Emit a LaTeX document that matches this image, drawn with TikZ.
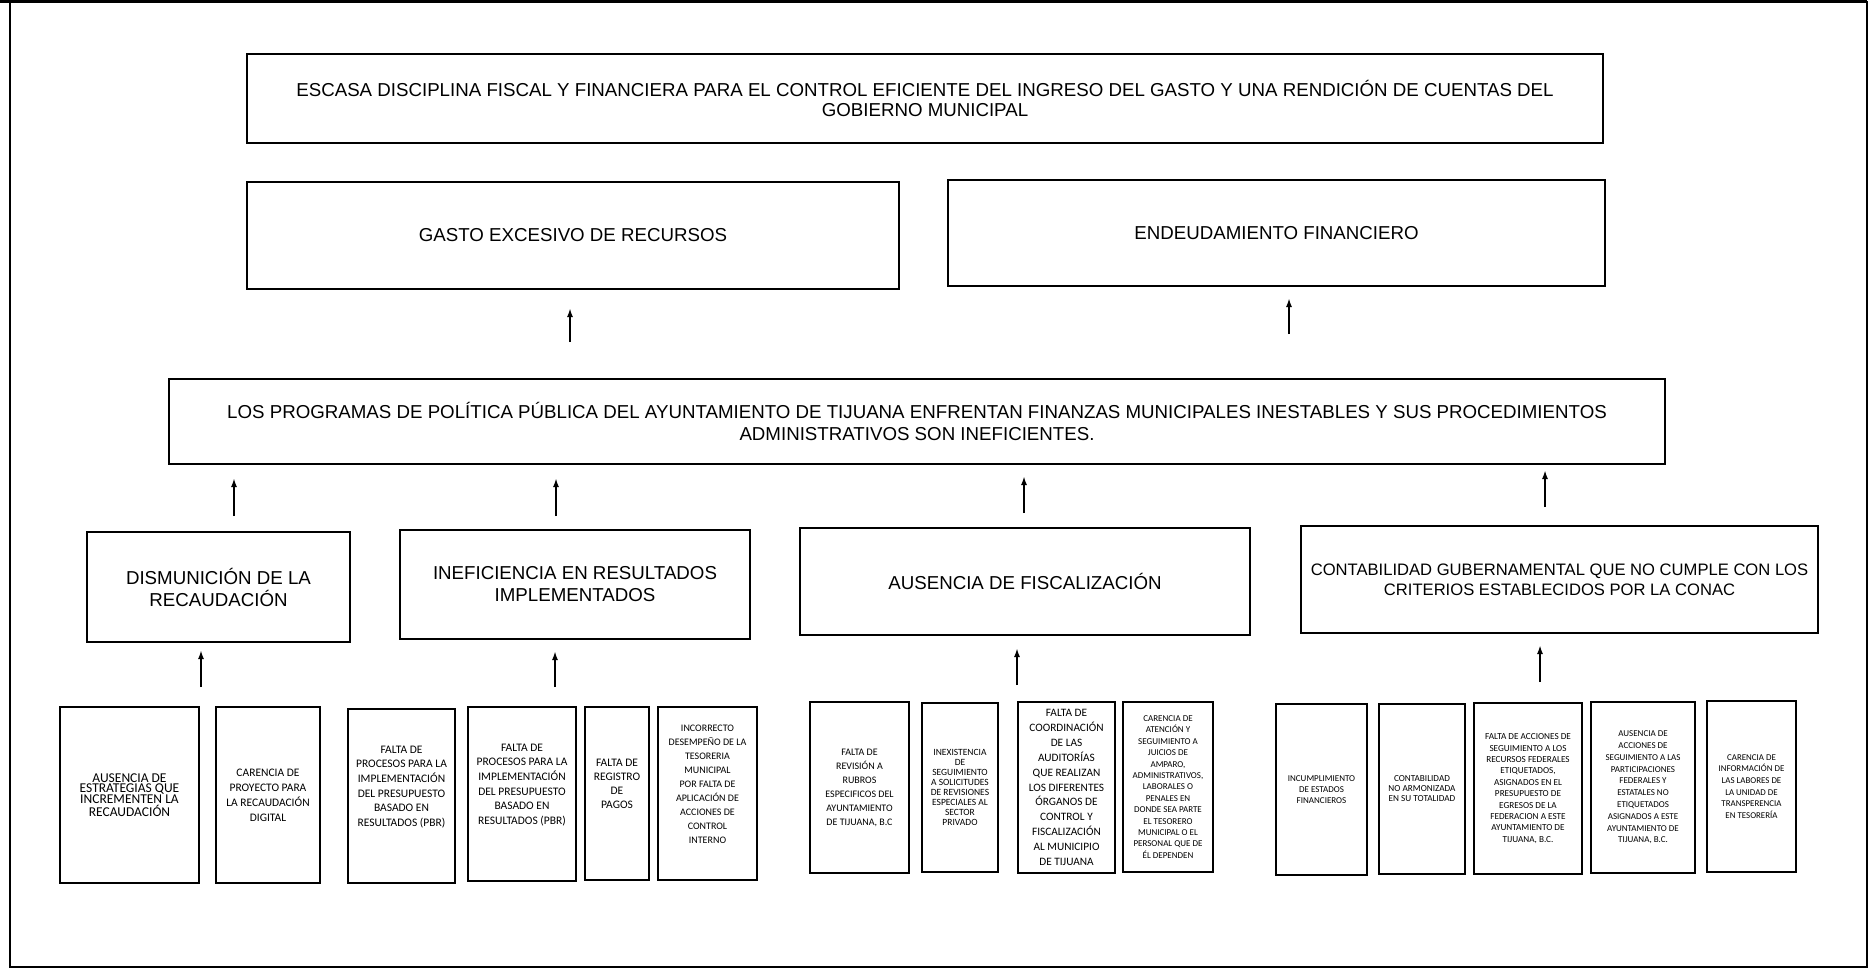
\documentclass[tikz,border=0pt]{standalone}
\usepackage{fontspec}
\setmainfont{Liberation Sans}
\newfontfamily\calibri{Carlito}
\usetikzlibrary{arrows.meta}

\tikzstyle{effect} = [draw=black, line width=1.4pt, rectangle, inner sep=0pt,
  outer sep=0pt, align=center, font=\fontsize{18.7}{20}\selectfont]
\tikzstyle{cause} = [draw=black, line width=1.4pt, rectangle, inner sep=0pt,
  outer sep=0pt, align=center, font=\fontsize{18.7}{22}\selectfont]
\tikzstyle{subcause} = [draw=black, line width=1.3pt, rectangle, inner sep=0pt,
  outer sep=0pt, align=center]
\tikzstyle{upward} = [-{Latex[length=9pt,width=6pt]}, line width=1.8pt]

\begin{document}
\begin{tikzpicture}[x=1pt,y=-1pt]
        \useasboundingbox (0,0) rectangle (1871,971);
        \draw[line width=1.5pt] (10,2) rectangle (1867,967);
        \draw[line width=3pt] (0,1.5) -- (1867,1.5);

        \node [effect, minimum width=1356pt, minimum height=89pt]  (escasa)    at ( 925, 98.5)
          {ESCASA DISCIPLINA FISCAL Y FINANCIERA PARA EL CONTROL EFICIENTE DEL INGRESO DEL GASTO Y UNA RENDICIÓN DE CUENTAS DEL\\GOBIERNO MUNICIPAL};
        \node [effect, minimum width=652pt, minimum height=107pt]  (gasto)     at ( 573,235.5) {GASTO EXCESIVO DE RECURSOS};
        \node [effect, minimum width=657pt, minimum height=106pt]  (endeuda)   at (1276.5,233) {ENDEUDAMIENTO FINANCIERO};
        \node [cause, minimum width=1496pt, minimum height=85pt]   (programas) at ( 917,421.5)
          {LOS PROGRAMAS DE POLÍTICA PÚBLICA DEL AYUNTAMIENTO DE TIJUANA ENFRENTAN FINANZAS MUNICIPALES INESTABLES Y SUS PROCEDIMIENTOS\\ADMINISTRATIVOS SON INEFICIENTES.};

        \node [cause, minimum width=263pt, minimum height=110pt]   (dismin)    at ( 218.5,587) {DISMUNICIÓN DE LA\\RECAUDACIÓN};
        \node [cause, minimum width=350pt, minimum height=109pt]   (inefic)    at ( 575,584.5) {INEFICIENCIA EN RESULTADOS\\IMPLEMENTADOS};
        \node [cause, minimum width=450pt, minimum height=107pt]   (fiscal)    at (1025,581.5) {AUSENCIA DE FISCALIZACIÓN};
        \node [cause, minimum width=517pt, minimum height=107pt, font=\fontsize{16.6}{20}\selectfont] (contab) at (1559.5,579.5)
          {CONTABILIDAD GUBERNAMENTAL QUE NO CUMPLE CON LOS\\CRITERIOS ESTABLECIDOS POR LA CONAC};

        \node [subcause, minimum width=139pt, minimum height=176pt, font=\calibri\fontsize{13.5}{10}\selectfont] (estrat) at ( 129.5,795)
          {AUSENCIA DE\\ESTRATEGIAS QUE\\INCREMENTEN LA\\RECAUDACIÓN};
        \node [subcause, minimum width=104pt, minimum height=176pt, font=\calibri\fontsize{11.5}{15}\selectfont] (proyecto) at ( 268,795)
          {CARENCIA DE\\PROYECTO PARA\\LA RECAUDACIÓN\\DIGITAL};
        \node [subcause, minimum width=107pt, minimum height=174pt, font=\calibri\fontsize{11.5}{14.6}\selectfont] (pbra) at ( 401.5,796)
          {FALTA DE\\PROCESOS PARA LA\\IMPLEMENTACIÓN\\DEL PRESUPUESTO\\BASADO EN\\RESULTADOS (PBR)\\[5pt]};
        \node [subcause, minimum width=108pt, minimum height=174pt, font=\calibri\fontsize{11.5}{14.6}\selectfont] (pbrb) at ( 522,794)
          {FALTA DE\\PROCESOS PARA LA\\IMPLEMENTACIÓN\\DEL PRESUPUESTO\\BASADO EN\\RESULTADOS (PBR)\\[5pt]};
        \node [subcause, minimum width=64pt, minimum height=173pt, font=\calibri\fontsize{11.5}{14}\selectfont] (registro) at ( 617,793.5)
          {FALTA DE\\REGISTRO\\DE\\PAGOS\\[5pt]};
        \node [subcause, minimum width=99pt, minimum height=173pt, font=\calibri\fontsize{10}{14}\selectfont] (tesoreria) at ( 707.5,793.5)
          {INCORRECTO\\DESEMPEÑO DE LA\\TESORERIA\\MUNICIPAL\\POR FALTA DE\\APLICACIÓN DE\\ACCIONES DE\\CONTROL\\INTERNO\\[5pt]};

        \node [subcause, minimum width=99pt, minimum height=171pt, font=\calibri\fontsize{10}{14}\selectfont] (revision) at ( 859.5,787.5)
          {FALTA DE\\REVISIÓN A\\RUBROS\\ESPECIFICOS DEL\\AYUNTAMIENTO\\DE TIJUANA, B.C};
        \node [subcause, minimum width=76pt, minimum height=169pt, font=\calibri\fontsize{9.5}{10}\selectfont] (inexist) at ( 960,787.5)
          {INEXISTENCIA\\DE\\SEGUIMIENTO\\A SOLICITUDES\\DE REVISIONES\\ESPECIALES AL\\SECTOR\\PRIVADO};
        \node [subcause, minimum width=97pt, minimum height=171pt, font=\calibri\fontsize{11.3}{14.9}\selectfont] (coordina) at (1066.5,787.5)
          {FALTA DE\\COORDINACIÓN\\DE LAS\\AUDITORÍAS\\QUE REALIZAN\\LOS DIFERENTES\\ÓRGANOS DE\\CONTROL Y\\FISCALIZACIÓN\\AL MUNICIPIO\\DE TIJUANA};
        \node [subcause, minimum width=90pt, minimum height=170pt, font=\calibri\fontsize{9}{11.4}\selectfont] (atencion) at (1168,787)
          {CARENCIA DE\\ATENCIÓN Y\\SEGUIMIENTO A\\JUICIOS DE\\AMPARO,\\ADMINISTRATIVOS,\\LABORALES O\\PENALES EN\\DONDE SEA PARTE\\EL TESORERO\\MUNICIPAL O EL\\PERSONAL QUE DE\\ÉL DEPENDEN};

        \node [subcause, minimum width=91pt, minimum height=171pt, font=\calibri\fontsize{9}{11}\selectfont] (incumpl) at (1321.5,789.5)
          {INCUMPLIMIENTO\\DE ESTADOS\\FINANCIEROS};
        \node [subcause, minimum width=86pt, minimum height=170pt, font=\calibri\fontsize{9.2}{10}\selectfont] (armoniza) at (1422,789)
          {CONTABILIDAD\\NO ARMONIZADA\\EN SU TOTALIDAD};
        \node [subcause, minimum width=108pt, minimum height=171pt, font=\calibri\fontsize{9.2}{11.4}\selectfont] (federal) at (1528,788.5)
          {FALTA DE ACCIONES DE\\SEGUIMIENTO A LOS\\RECURSOS FEDERALES\\ETIQUETADOS,\\ASIGNADOS EN EL\\PRESUPUESTO DE\\EGRESOS DE LA\\FEDERACION A ESTE\\AYUNTAMIENTO DE\\TIJUANA, B.C.};
        \node [subcause, minimum width=104pt, minimum height=171pt, font=\calibri\fontsize{9}{11.8}\selectfont] (particip) at (1643,787.5)
          {AUSENCIA DE\\ACCIONES DE\\SEGUIMIENTO A LAS\\PARTICIPACIONES\\FEDERALES Y\\ESTATALES NO\\ETIQUETADOS\\ASIGNADOS A ESTE\\AYUNTAMIENTO DE\\TIJUANA, B.C.};
        \node [subcause, minimum width=89pt, minimum height=171pt, font=\calibri\fontsize{8.9}{11.6}\selectfont] (transpar) at (1751.5,786.5)
          {CARENCIA DE\\INFORMACIÓN DE\\LAS LABORES DE\\LA UNIDAD DE\\TRANSPERENCIA\\EN TESORERÍA};

        \coordinate (tdismin) at ( 201,687);
        \coordinate (tinefic) at ( 555,687);
        \coordinate (tfiscal) at (1017,685);
        \coordinate (tcontab) at (1540,682);

        \draw[upward, shorten <=37pt, shorten >=19pt] ([xshift=-3pt]gasto.south |- programas.north) -- ([xshift=-3pt]gasto.south);
        \draw[upward, shorten <=45pt, shorten >=12pt] ([xshift=12.5pt]endeuda.south |- programas.north) -- ([xshift=12.5pt]endeuda.south);
        \draw[upward, shorten <=16pt, shorten >=14pt] ([xshift=15.5pt]dismin.north) -- ([xshift=15.5pt]dismin.north |- programas.south);
        \draw[upward, shorten <=14pt, shorten >=14pt] ([xshift=-19pt]inefic.north) -- ([xshift=-19pt]inefic.north |- programas.south);
        \draw[upward, shorten <=15pt, shorten >=12pt] ([xshift=-1pt]fiscal.north) -- ([xshift=-1pt]fiscal.north |- programas.south);
        \draw[upward, shorten <=19pt, shorten >=6pt] ([xshift=-14.5pt]contab.north) -- ([xshift=-14.5pt]contab.north |- programas.south);
        \draw[upward, shorten >=8pt]  (tdismin) -- (tdismin |- dismin.south);
        \draw[upward, shorten >=12pt] (tinefic) -- (tinefic |- inefic.south);
        \draw[upward, shorten >=13pt] (tfiscal) -- (tfiscal |- fiscal.south);
        \draw[upward, shorten >=12pt] (tcontab) -- (tcontab |- contab.south);
      \end{tikzpicture}
\end{document}
